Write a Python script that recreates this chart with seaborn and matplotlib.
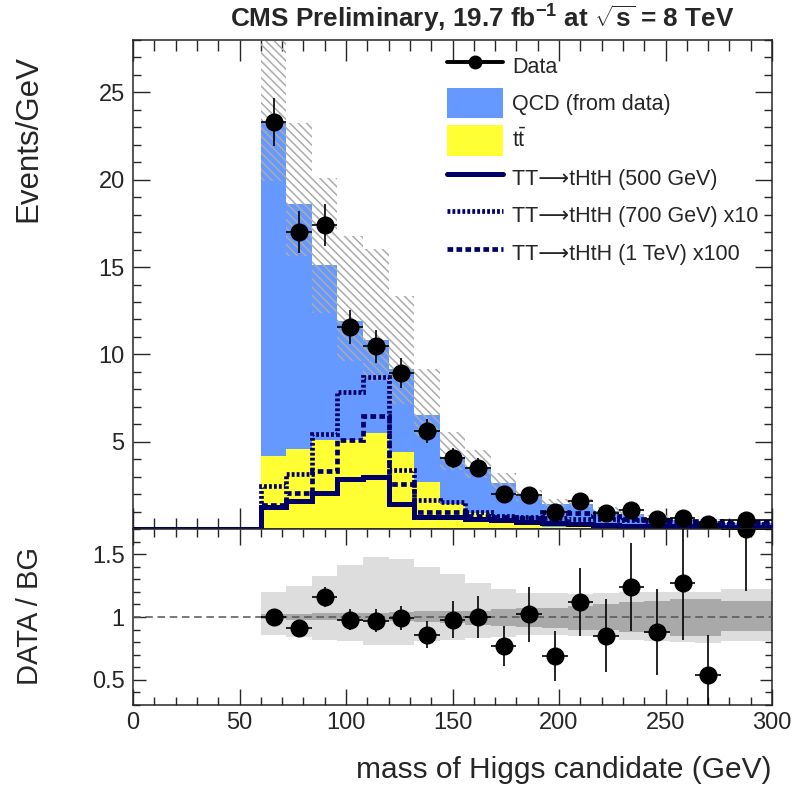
import numpy as np
import pandas as pd
import matplotlib
matplotlib.use("Agg")
import matplotlib.pyplot as plt
import seaborn as sns
from matplotlib.lines import Line2D
from matplotlib.patches import Patch
from matplotlib.ticker import MultipleLocator

# ---------------- data ----------------
bin_edges = [60, 72, 84, 96, 108, 120, 132, 144, 156, 168, 180, 192, 204, 216, 228, 240, 252, 264, 276, 300]
data_vals = [23.3, 17.0, 17.4, 11.55, 10.45, 8.96, 5.61, 4.08, 3.51, 1.98, 1.92, 0.98, 1.6, 0.89, 1.08, 0.56, 0.62, 0.26, 0.5]
data_err = [1.39, 1.19, 1.2, 0.98, 0.93, 0.86, 0.68, 0.58, 0.54, 0.41, 0.40, 0.29, 0.37, 0.27, 0.30, 0.22, 0.23, 0.15, 0.14]
qcd_vals = [19.12, 14.04, 10.0, 6.8, 5.33, 4.72, 3.85, 2.69, 2.65, 2.12, 1.55, 1.33, 1.35, 0.97, 0.82, 0.6, 0.46, 0.44, 0.3]
ttbar_vals = [4.18, 4.56, 5.1, 5.1, 5.52, 4.43, 2.7, 1.46, 0.9, 0.5, 0.35, 0.12, 0.1, 0.08, 0.06, 0.05, 0.04, 0.03, 0.02]
sig500 = [1.27, 1.61, 2.04, 2.84, 2.96, 1.42, 0.69, 0.68, 0.6, 0.5, 0.4, 0.35, 0.3, 0.25, 0.2, 0.18, 0.15, 0.12, 0.1]
sig700_x10 = [2.46, 3.13, 5.42, 7.87, 8.73, 3.38, 1.65, 1.55, 0.95, 0.75, 0.7, 0.65, 0.6, 0.55, 0.5, 0.45, 0.4, 0.35, 0.3]
sig1000_x100 = [1.4, 2.04, 3.34, 5.1, 6.48, 2.57, 0.98, 0.98, 0.75, 0.7, 0.65, 0.98, 0.9, 0.73, 0.6, 0.5, 0.45, 0.45, 0.4]
# relative background uncertainty (total and statistical)
tot_lo = [0.855, 0.84, 0.82, 0.81, 0.78, 0.78, 0.81, 0.82, 0.83, 0.84, 0.855, 0.855, 0.85, 0.845, 0.82, 0.81, 0.80, 0.79, 0.81]
tot_hi = [1.20, 1.25, 1.33, 1.41, 1.48, 1.46, 1.40, 1.34, 1.27, 1.22, 1.19, 1.19, 1.18, 1.19, 1.20, 1.20, 1.20, 1.20, 1.22]
stat_lo = [0.985, 0.98, 0.975, 0.97, 0.97, 0.965, 0.96, 0.955, 0.94, 0.93, 0.92, 0.915, 0.90, 0.895, 0.88, 0.87, 0.85, 0.85, 0.89]
stat_hi = [1.02, 1.02, 1.03, 1.03, 1.035, 1.04, 1.045, 1.045, 1.05, 1.065, 1.07, 1.075, 1.09, 1.10, 1.12, 1.13, 1.145, 1.145, 1.13]
ratio_vals = [1.0, 0.91, 1.16, 0.98, 0.97, 0.99, 0.86, 0.98, 1.0, 0.77, 1.02, 0.69, 1.12, 0.85, 1.24, 0.88, 1.27, 0.54, 1.70]
ratio_err = [0.05, 0.065, 0.08, 0.085, 0.09, 0.095, 0.11, 0.15, 0.165, 0.16, 0.22, 0.2, 0.27, 0.29, 0.35, 0.34, 0.45, 0.32, 0.49]
x_ticks = [0, 50, 100, 150, 200, 250, 300]

# colours
c_qcd = "#6699ff"
c_tt = "#ffff33"
c_sig = "#000066"

sns.set_style("ticks")
plt.rcParams.update({
    "font.family": ["Liberation Sans", "DejaVu Sans"],
    "mathtext.fontset": "custom",
    "mathtext.rm": "Liberation Sans",
    "mathtext.bf": "Liberation Sans:bold",
    "mathtext.it": "Liberation Sans:italic",
    "hatch.linewidth": 1.1,
    "axes.linewidth": 1.1,
})

edges = np.array(bin_edges, dtype=float)
centers = 0.5 * (edges[:-1] + edges[1:])
half_w = 0.5 * np.diff(edges)

df = pd.DataFrame({"mass": centers, "qcd": qcd_vals, "tt": ttbar_vals})
df["total"] = df["qcd"] + df["tt"]

W, H = 796, 788
fig = plt.figure(figsize=(W / 100, H / 100), dpi=100)
ax = fig.add_axes([133 / W, 1 - 529 / H, 639 / W, 489 / H])
axr = fig.add_axes([133 / W, 1 - 705 / H, 639 / W, 176 / H])

# ---------------- top panel ----------------
sns.histplot(data=df, x="mass", weights="total", bins=list(bin_edges), element="step", fill=True,
             color=c_qcd, alpha=1, linewidth=0, ax=ax, zorder=1)
sns.histplot(data=df, x="mass", weights="tt", bins=list(bin_edges), element="step", fill=True,
             color=c_tt, alpha=1, linewidth=0, ax=ax, zorder=2)

total = df["total"].values
ax.stairs(total * np.array(tot_hi), edges, baseline=total * np.array(tot_lo), fill=True,
          facecolor="none", edgecolor="#ababab", linewidth=0, hatch="\\\\\\\\", zorder=3)

sig_edges = np.r_[0.0, edges]
ax.stairs(np.r_[0.0, sig500], sig_edges, baseline=None, color=c_sig, lw=3.6,
          zorder=6, clip_on=False)
ax.stairs(np.r_[0.0, sig700_x10], sig_edges, baseline=None, color=c_sig, lw=3.4,
          linestyle=(0, (0.6, 0.45)), zorder=5, clip_on=False)
ax.stairs(np.r_[0.0, sig1000_x100], sig_edges, baseline=None, color=c_sig, lw=3.4,
          linestyle=(0, (1.2, 0.7)), zorder=5, clip_on=False)

ax.errorbar(centers, data_vals, yerr=data_err, xerr=half_w, fmt="o", color="k",
            ms=12, elinewidth=1.2, capsize=0, zorder=10)

ax.set_xlim(0, 300)
ax.set_ylim(0, 28)
ax.set_xlabel("")
ax.set_ylabel("")
ax.set_xticks(x_ticks)
ax.set_xticklabels([])
ax.xaxis.set_minor_locator(MultipleLocator(10))
ax.set_yticks([5, 10, 15, 20, 25])
ax.yaxis.set_minor_locator(MultipleLocator(1))
ax.tick_params(axis="both", which="both", direction="in", top=True, right=True)
ax.tick_params(axis="x", which="major", length=15, width=1)
ax.tick_params(axis="x", which="minor", length=8, width=1)
ax.tick_params(axis="y", which="major", length=12, width=1, labelsize=17, pad=6)
ax.tick_params(axis="y", which="minor", length=6, width=1)

handles = [
    Line2D([], [], color="k", lw=2.8, marker="o", ms=9),
    Patch(facecolor=c_qcd, edgecolor="none"),
    Patch(facecolor=c_tt, edgecolor="none"),
    Line2D([], [], color=c_sig, lw=3.6),
    Line2D([], [], color=c_sig, lw=3.4, linestyle=(0, (0.6, 0.45))),
    Line2D([], [], color=c_sig, lw=3.4, linestyle=(0, (1.2, 0.7))),
]
labels = ["Data", "QCD (from data)", r"$\mathrm{t\bar{t}}$",
          "TT\u27f6tHtH (500 GeV)", "TT\u27f6tHtH (700 GeV) x10",
          "TT\u27f6tHtH (1 TeV) x100"]
leg = ax.legend(handles, labels, loc="upper left", bbox_to_anchor=(0.491, 0.978),
                frameon=False, fontsize=15.5, handlelength=2.6, handleheight=1.77,
                handletextpad=0.45, labelspacing=0.34, borderpad=0, borderaxespad=0)

# ---------------- ratio panel ----------------
axr.stairs(tot_hi, edges, baseline=tot_lo, fill=True, color="#dddddd", lw=0, zorder=1)
axr.stairs(stat_hi, edges, baseline=stat_lo, fill=True, color="#a9a9a9", lw=0, zorder=2)
axr.axhline(1.0, color="#555555", lw=1.1, ls=(0, (5, 3)), zorder=3)
axr.errorbar(centers, ratio_vals, yerr=ratio_err, xerr=half_w, fmt="o", color="k",
             ms=12, elinewidth=1.2, capsize=0, zorder=10)
axr.set_xlim(0, 300)
axr.set_ylim(0.3, 1.7)
axr.set_xticks(x_ticks)
axr.set_xticklabels([str(t) for t in x_ticks])
axr.set_yticks([0.5, 1.0, 1.5])
axr.set_yticklabels(["0.5", "1", "1.5"])
axr.xaxis.set_minor_locator(MultipleLocator(10))
axr.yaxis.set_minor_locator(MultipleLocator(0.1))
axr.tick_params(axis="both", which="both", direction="in", top=True, right=True)
axr.tick_params(axis="x", which="major", length=11.5, width=1, labelsize=17, pad=5)
axr.tick_params(axis="x", which="minor", length=6, width=1)
axr.tick_params(axis="y", which="major", length=9, width=1, labelsize=17, pad=6)
axr.tick_params(axis="y", which="minor", length=5, width=1)

# ---------------- texts ----------------
fig.text(482 / W, 1 - 19 / H, r"CMS Preliminary, 19.7 fb$^{\mathbf{-1}}$ at $\sqrt{\mathbf{s}}$ = 8 TeV",
         ha="center", va="center", fontsize=18.8, fontweight="bold")
fig.text(28 / W, 1 - 55 / H, "Events/GeV", rotation=90, ha="center", va="top", fontsize=22.5)
fig.text(30 / W, 1 - 616 / H, "DATA / BG", rotation=90, ha="center", va="center", fontsize=21)
fig.text(772 / W, 1 - 770 / H, "mass of Higgs candidate (GeV)", ha="right", va="center", fontsize=21.5)

fig.savefig("out.png", dpi=100)
